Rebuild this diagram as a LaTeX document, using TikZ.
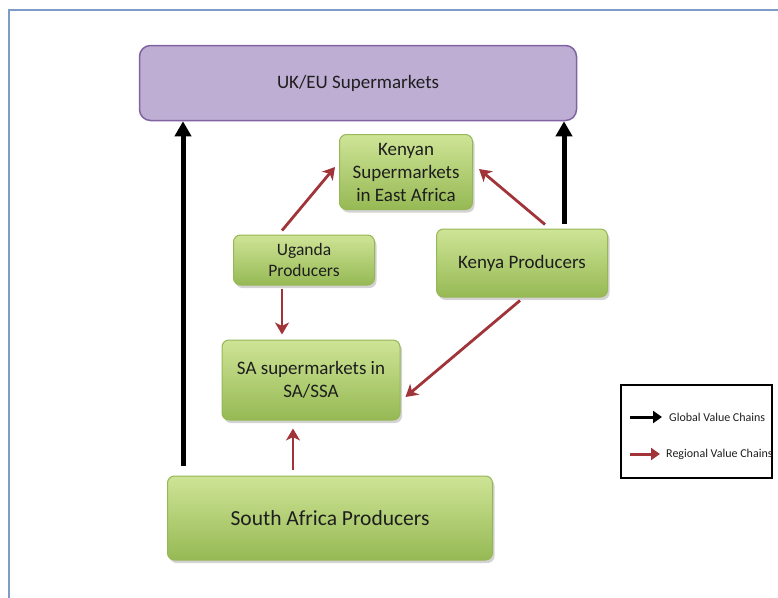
\documentclass[tikz,border=0pt]{standalone}
\usepackage{fontspec}
\setmainfont{Carlito}
\usetikzlibrary{arrows.meta,shadows}
\definecolor{frameblue}{RGB}{127,156,198}
\definecolor{ukfill}{RGB}{191,174,212}
\definecolor{ukdraw}{RGB}{128,100,162}
\definecolor{gtop}{RGB}{206,228,150}
\definecolor{gbot}{RGB}{150,185,84}
\definecolor{gdraw}{RGB}{150,183,85}
\definecolor{rvcred}{RGB}{160,52,56}
\definecolor{txt}{RGB}{30,30,30}
\begin{document}
\begin{tikzpicture}[x=1pt, y=-1pt,
    every node/.style={font=\fontsize{19}{23}\selectfont, text=txt, align=center},
    greenbox/.style={draw=gdraw, line width=1pt, rounded corners=7pt,
      top color=gtop, bottom color=gbot,
      drop shadow={opacity=0.35, shadow xshift=2pt, shadow yshift=-3pt}},
    gvc/.style={line width=5pt, -{Triangle[length=15pt,width=16pt]}},
    rvc/.style={rvcred, line width=2.8pt, -{Stealth[length=12pt,width=14pt,inset=3.5pt]}}]
    \useasboundingbox (0,0) rectangle (778,597);
    \begin{scope}
      \clip (0,0) rectangle (778,597);
      \draw[frameblue, line width=1.6pt] (9,10) rectangle (800,620);
    \end{scope}
    % boxes
    \node[draw=ukdraw, line width=1.5pt, fill=ukfill, rounded corners=11pt,
      minimum width=437pt, minimum height=75pt] (uk) at (358,83) {UK/EU Supermarkets};
    \node[greenbox, minimum width=133pt, minimum height=75pt] (kes) at (406,172)
      {Kenyan\\Supermarkets\\in East Africa};
    \node[greenbox, minimum width=141pt, minimum height=50pt,
      font=\fontsize{17.5}{21}\selectfont] (ug) at (304,260) {Uganda\\Producers};
    \node[greenbox, minimum width=171pt, minimum height=68pt] (kp) at (522,263) {Kenya Producers};
    \node[greenbox, minimum width=178pt, minimum height=80pt] (sas) at (311,380)
      {SA supermarkets in\\SA/SSA};
    \node[greenbox, minimum width=325pt, minimum height=84pt,
      font=\fontsize{21.5}{25}\selectfont] (sap) at (330,518) {South Africa Producers};
    % global chains
    \coordinate (gl) at (183,466);
    \coordinate (gr) at (564,224);
    \draw[gvc] (gl) -- (gl |- uk.south);
    \draw[gvc] (gr) -- (gr |- uk.south);
    % regional chains
    \draw[rvc] ([xshift=-22pt,yshift=4pt]ug.north) -- ([xshift=-4pt,yshift=5pt]kes.west);
    \draw[rvc] ([xshift=23pt,yshift=4pt]kp.north) -- ([xshift=6pt,yshift=3pt]kes.east);
    \draw[rvc] ([xshift=-22pt,yshift=-3pt]ug.south) -- ([xshift=-29pt,yshift=5pt]sas.north);
    \draw[rvc] ([xshift=-2pt,yshift=-3pt]kp.south) -- ([xshift=5pt,yshift=-17pt]sas.east);
    \draw[rvc] ([xshift=-37pt,yshift=6pt]sap.north) -- ([xshift=-18pt,yshift=-8pt]sas.south);
    % legend
    \node[draw=black, line width=1.5pt, minimum width=151pt, minimum height=93pt] (lg) at (696.5,431.5) {};
    \coordinate (lga) at (630,417);
    \coordinate (lgb) at (630,454);
    \node[anchor=west, font=\fontsize{12}{14}\selectfont, inner sep=0pt] (lgt) at (669,417) {Global Value Chains};
    \node[anchor=west, font=\fontsize{12}{14}\selectfont, inner sep=0pt] (lgr) at (666,454) {Regional Value Chains};
    \draw[line width=3pt, -{Triangle[length=9pt,width=12pt]}] (lga) -- ([xshift=-7pt]lgt.west);
    \draw[rvcred, line width=3pt, -{Triangle[length=9pt,width=12pt]}] (lgb) -- ([xshift=-6pt]lgr.west);
\end{tikzpicture}
\end{document}
